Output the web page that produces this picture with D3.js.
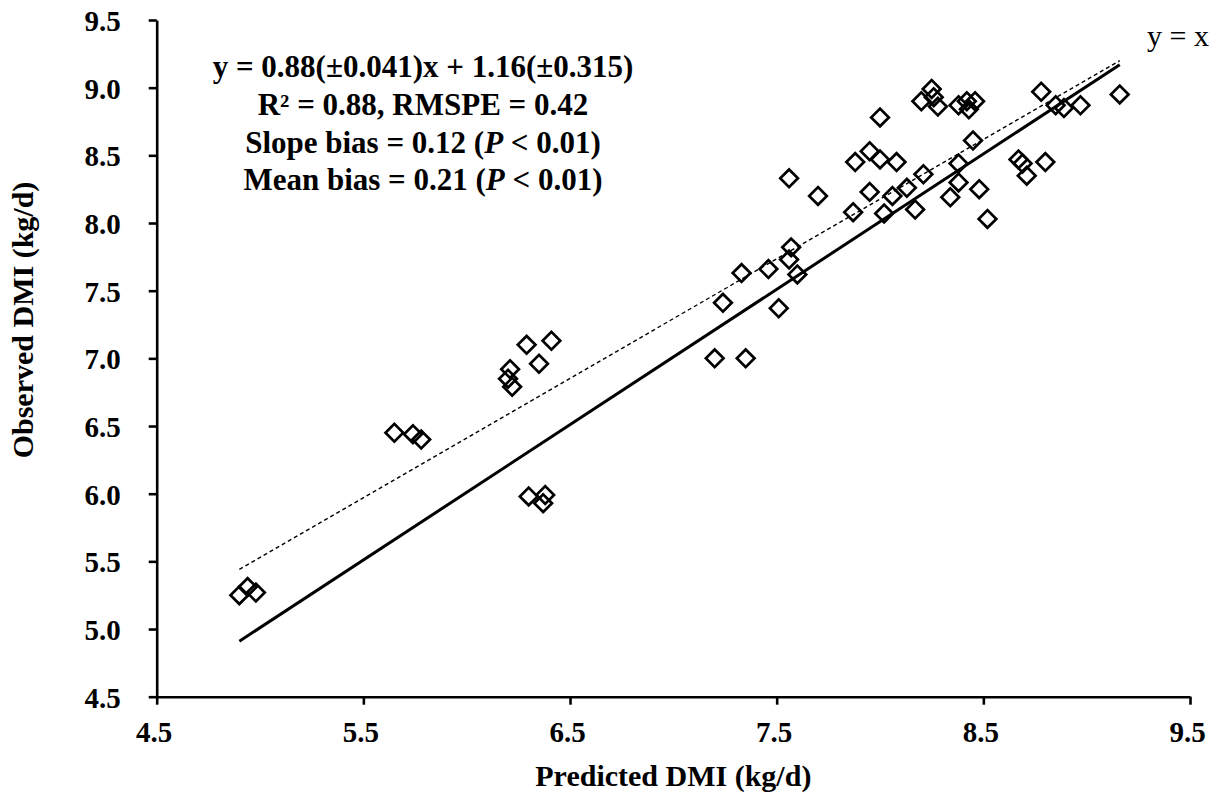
<!DOCTYPE html>
<html>
<head>
<meta charset="utf-8">
<script src="https://cdn.jsdelivr.net/npm/d3@7"></script>
<style>
  html, body { margin: 0; padding: 0; background: #fff; }
  svg { display: block; }
  text { font-family: "Liberation Serif", "Times New Roman", serif; fill: #000; }
</style>
</head>
<body>
<div id="chart"></div>
<script>
// ---- data ----
const predicted = [4.90, 4.94, 4.98, 5.65, 5.74, 5.78, 6.29, 6.41, 6.35, 6.21,
    6.20, 6.22, 6.30, 6.38, 6.37, 7.20, 7.35, 7.24, 7.33, 7.46,
    7.56, 7.57, 7.60, 7.51, 7.56, 7.70, 7.87, 7.88, 7.95, 8.00,
    8.00, 8.08, 7.95, 8.02, 8.06, 8.13, 8.17, 8.21, 8.20, 8.25,
    8.26, 8.28, 8.38, 8.42, 8.46, 8.43, 8.45, 8.38, 8.38, 8.34,
    8.48, 8.52, 8.67, 8.69, 8.71, 8.80, 8.78, 8.85, 8.89, 8.97,
    9.16];
const observed = [5.25, 5.31, 5.27, 6.45, 6.44, 6.40, 7.10, 7.13, 6.96, 6.92,
    6.85, 6.79, 5.98, 5.99, 5.93, 7.00, 7.00, 7.41, 7.63, 7.66,
    7.73, 7.82, 7.62, 7.37, 8.33, 8.20, 8.08, 8.45, 8.53, 8.78,
    8.47, 8.45, 8.23, 8.07, 8.20, 8.26, 8.10, 8.36, 8.90, 8.99,
    8.93, 8.86, 8.87, 8.90, 8.90, 8.84, 8.61, 8.44, 8.30, 8.19,
    8.25, 8.03, 8.47, 8.44, 8.35, 8.45, 8.97, 8.87, 8.85, 8.87,
    8.95];

const xTicks = [4.5, 5.5, 6.5, 7.5, 8.5, 9.5];
const yTicks = [4.5, 5.0, 5.5, 6.0, 6.5, 7.0, 7.5, 8.0, 8.5, 9.0, 9.5];

// regression (solid) and reference (dashed) line end points
const fitLineX = [4.90, 9.16];
const fitLineY = [4.91, 9.17];
const refLineX = [4.90, 9.16];
const refLineY = [5.44, 9.20];

const statLines = [
    [{ t: 'y = 0.88(±0.041)x + 1.16(±0.315)' }],
    [{ t: 'R² = 0.88, RMSPE = 0.42' }],
    [{ t: 'Slope bias = 0.12 (' }, { t: 'P', i: true }, { t: ' < 0.01)' }],
    [{ t: 'Mean bias = 0.21 (' }, { t: 'P', i: true }, { t: ' < 0.01)' }]
];

// ---- setup ----
const width = 1220, height = 795;
const svg = d3.select('#chart').append('svg')
    .attr('width', width)
    .attr('height', height);

const x = d3.scaleLinear().domain([4.5, 9.5]).range([156.7, 1190]);
const y = d3.scaleLinear().domain([4.5, 9.5]).range([696.7, 20]);

// axes
const xAxis = svg.append('g')
    .attr('transform', `translate(0,${y(4.5)})`)
    .call(d3.axisBottom(x).tickValues(xTicks).tickFormat(d3.format('.1f'))
        .tickSize(8).tickSizeOuter(0));

const yAxis = svg.append('g')
    .attr('transform', `translate(${x(4.5)},0)`)
    .call(d3.axisLeft(y).tickValues(yTicks).tickFormat(d3.format('.1f'))
        .tickSize(8).tickSizeOuter(0));

[xAxis, yAxis].forEach(ax => {
    ax.select('.domain').attr('stroke', '#000').attr('stroke-width', 2.6);
    ax.selectAll('.tick line').attr('stroke', '#000').attr('stroke-width', 2.6);
    ax.selectAll('.tick text')
        .style('font-family', '"Liberation Serif", "Times New Roman", serif')
        .style('font-weight', 'bold')
        .style('font-size', '29px')
        .attr('fill', '#000');
});

xAxis.selectAll('.tick text')
    .attr('x', -3).attr('y', 45).attr('dy', 0);

yAxis.selectAll('.tick text')
    .attr('x', -36).attr('dy', '0.36em');

// axis titles
svg.append('text')
    .attr('x', (x(4.5) + x(9.5)) / 2)
    .attr('y', 786)
    .attr('text-anchor', 'middle')
    .style('font-weight', 'bold')
    .style('font-size', '30px')
    .text('Predicted DMI (kg/d)');

svg.append('text')
    .attr('transform', 'translate(33,320) rotate(-90)')
    .attr('text-anchor', 'middle')
    .style('font-weight', 'bold')
    .style('font-size', '30px')
    .text('Observed DMI (kg/d)');

// lines
const line = d3.line().x(d => x(d[0])).y(d => y(d[1]));

svg.append('path')
    .datum(refLineX.map((v, i) => [v, refLineY[i]]))
    .attr('d', line)
    .attr('fill', 'none')
    .attr('stroke', '#000')
    .attr('stroke-width', 1.4)
    .attr('stroke-dasharray', '4,3');

svg.append('path')
    .datum(fitLineX.map((v, i) => [v, fitLineY[i]]))
    .attr('d', line)
    .attr('fill', 'none')
    .attr('stroke', '#000')
    .attr('stroke-width', 3);

// points (open diamonds)
const diamond = d3.symbol().type(d3.symbolSquare).size(156);
svg.append('g')
    .selectAll('path')
    .data(predicted.map((v, i) => [v, observed[i]]))
    .enter().append('path')
    .attr('d', diamond)
    .attr('transform', d => `translate(${x(d[0])},${y(d[1])}) rotate(45)`)
    .attr('fill', 'none')
    .attr('stroke', '#000')
    .attr('stroke-width', 2.7);

// y = x label
svg.append('text')
    .attr('x', 1147)
    .attr('y', 46)
    .style('font-size', '30px')
    .text('y = x');

// statistics block
const statBaselines = [77, 115, 153, 190];
statLines.forEach((parts, i) => {
    const t = svg.append('text')
        .attr('x', 423)
        .attr('y', statBaselines[i])
        .attr('text-anchor', 'middle')
        .style('font-weight', 'bold')
        .style('font-size', '31px');
    parts.forEach(p => {
        t.append('tspan')
            .style('font-style', p.i ? 'italic' : 'normal')
            .text(p.t);
    });
});
</script>
</body>
</html>
